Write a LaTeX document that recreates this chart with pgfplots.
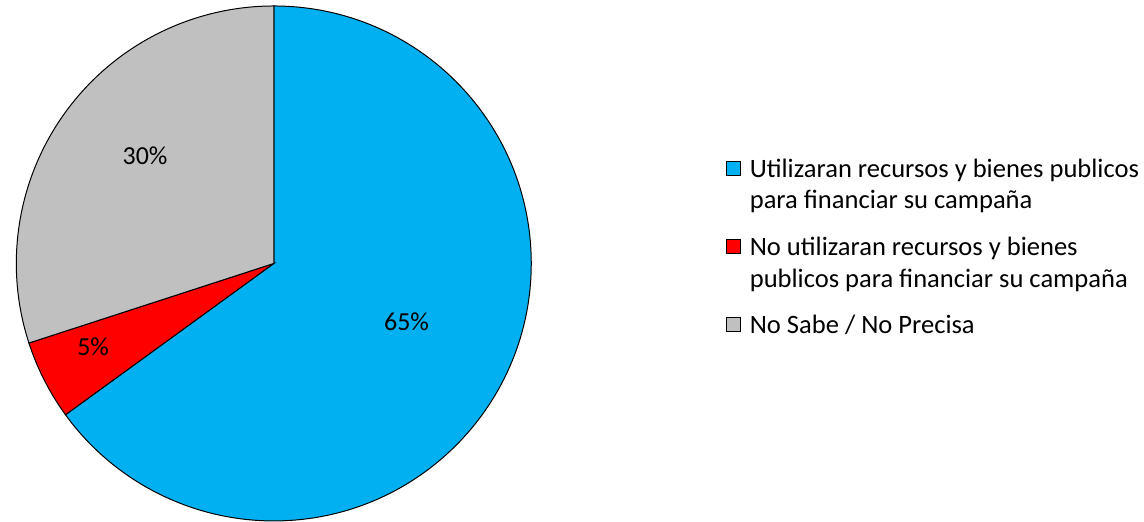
\documentclass[border=0pt]{standalone}
\usepackage{pgfplots}
\pgfplotsset{compat=1.18}
\usepackage{fontspec}
\setmainfont{Carlito}
\definecolor{cblue}{HTML}{00B0F0}
\definecolor{cred}{HTML}{FF0000}
\definecolor{cgray}{HTML}{C0C0C0}
\begin{document}
\begin{tikzpicture}
\begin{axis}[
  scale only axis, width=1144bp, height=523bp,
  xmin=0, xmax=1144, ymin=0, ymax=523,
  enlargelimits=false,
  hide axis, clip=false,
  legend style={at={(axis cs:725,364)}, anchor=north west, draw=none, fill=none,
    inner sep=0pt, row sep=27bp, column sep=9bp,
    font=\fontsize{26.6bp}{31.5bp}\selectfont,
    nodes={inner sep=0pt, align=left, anchor=west}},
  legend cell align=left,
]
\path (axis cs:0,0) (axis cs:1144,523);
\def\cx{272}\def\cy{259}\def\r{258}
\gdef\a{90}
\foreach \v/\c in {65/cblue,5/cred,30/cgray}{
  \pgfmathsetmacro\b{\a-3.6*\v}
  \edef\temp{\noexpand\filldraw[fill=\c, draw=black, line width=1bp] (axis cs:\cx,\cy) -- ++(\a:\r bp) arc[start angle=\a, end angle=\b, radius=\r bp] -- cycle;}
  \temp
  \xdef\a{\b}
}
\node[font=\fontsize{26bp}{31bp}\selectfont] at (axis cs:405,201) {65\%};
\node[font=\fontsize{26bp}{31bp}\selectfont] at (axis cs:91,176) {5\%};
\node[font=\fontsize{26bp}{31bp}\selectfont] at (axis cs:143,367) {30\%};
\addlegendimage{legend image code/.code={\draw[fill=cblue, draw=black, line width=0.8bp] (0bp,9bp) rectangle (14bp,23bp);}}
\addlegendentry{Utilizaran recursos y bienes publicos\\para financiar su campaña}
\addlegendimage{legend image code/.code={\draw[fill=cred, draw=black, line width=0.8bp] (0bp,9bp) rectangle (14bp,23bp);}}
\addlegendentry{No utilizaran recursos y bienes\\publicos para financiar su campaña}
\addlegendimage{legend image code/.code={\draw[fill=cgray, draw=black, line width=0.8bp] (0bp,-6bp) rectangle (14bp,8bp);}}
\addlegendentry{No Sabe / No Precisa}
\end{axis}
\end{tikzpicture}
\end{document}
